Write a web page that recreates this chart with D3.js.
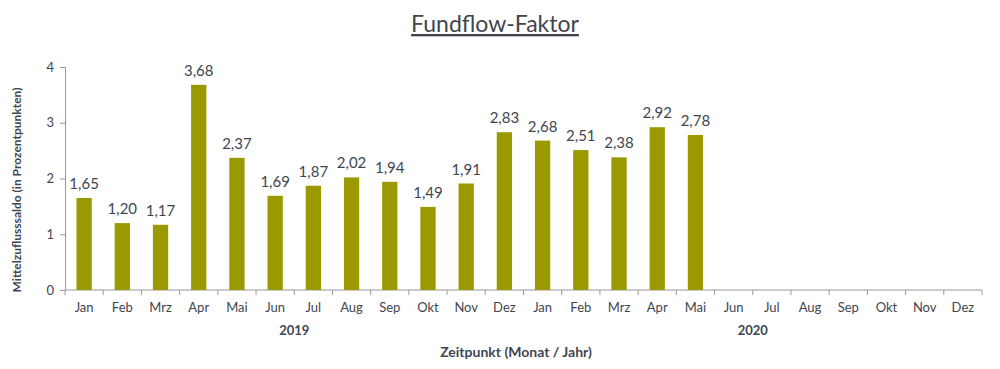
<!DOCTYPE html>
<html>
<head>
<meta charset="utf-8">
<script src="https://cdn.jsdelivr.net/npm/d3@7"></script>
<style>
body { margin: 0; background: #fff; }
text { font-family: Lato, "Open Sans", sans-serif; fill: #3f4650; }
</style>
</head>
<body>
<div id="chart"></div>
<script>
// chart data
var months = ["Jan", "Feb", "Mrz", "Apr", "Mai", "Jun", "Jul", "Aug", "Sep", "Okt", "Nov", "Dez"];
var years = ["2019", "2020"];
var values2019 = [1.65, 1.20, 1.17, 3.68, 2.37, 1.69, 1.87, 2.02, 1.94, 1.49, 1.91, 2.83];
var values2020 = [2.68, 2.51, 2.38, 2.92, 2.78, null, null, null, null, null, null, null];
var yTicks = [0, 1, 2, 3, 4];

var width = 1000, height = 369;
var margin = {left: 65, right: 18, top: 67, bottom: 79};

// one row per month, key keeps the two years apart
var rows = [];
[values2019, values2020].forEach(function(vals, yi) {
	vals.forEach(function(v, mi) {
		rows.push({key: years[yi] + "-" + mi, month: months[mi], year: years[yi], value: v});
	});
});

var x = d3.scaleBand()
	.domain(rows.map(function(d) { return d.key; }))
	.range([margin.left, width - margin.right])
	.paddingInner(0.6)
	.paddingOuter(0.3);

var y = d3.scaleLinear()
	.domain([0, 4])
	.range([height - margin.bottom, margin.top]);

var svg = d3.select("#chart").append("svg")
	.attr("width", width)
	.attr("height", height);

// title
svg.append("text")
	.attr("x", 495)
	.attr("y", 32)
	.attr("text-anchor", "middle")
	.attr("font-size", "23px")
	.attr("text-decoration", "underline")
	.text("Fundflow-Faktor");

// y axis
var yAxis = svg.append("g")
	.attr("transform", "translate(" + margin.left + ",0)")
	.call(d3.axisLeft(y).tickValues(yTicks).tickSize(5).tickPadding(6).tickFormat(d3.format("d")));
yAxis.selectAll("text").attr("font-size", "13px").style("font-family", "Lato, sans-serif").attr("fill", "#3f4650");
yAxis.select(".domain").attr("stroke", "#999");
yAxis.selectAll(".tick line").attr("stroke", "#999");

// x axis with ticks on band boundaries (between months)
var xAxisG = svg.append("g").attr("transform", "translate(0," + y(0) + ")");
xAxisG.append("line")
	.attr("x1", margin.left).attr("x2", width - margin.right)
	.attr("stroke", "#999");
var bounds = rows.map(function(d) { return x(d.key) - x.step() * x.paddingInner() / 2; });
bounds.push(width - margin.right);
xAxisG.selectAll("line.tick")
	.data(bounds)
	.enter().append("line")
	.attr("class", "tick")
	.attr("x1", function(d) { return d; }).attr("x2", function(d) { return d; })
	.attr("y1", 0).attr("y2", 5)
	.attr("stroke", "#999");
xAxisG.selectAll("text.month")
	.data(rows)
	.enter().append("text")
	.attr("class", "month")
	.attr("x", function(d) { return x(d.key) + x.bandwidth() / 2; })
	.attr("y", 22)
	.attr("text-anchor", "middle")
	.attr("font-size", "13px")
	.text(function(d) { return d.month; });

// year labels
years.forEach(function(yr) {
	var keys = rows.filter(function(d) { return d.year === yr; });
	var x0 = x(keys[0].key), x1 = x(keys[keys.length - 1].key) + x.bandwidth();
	svg.append("text")
		.attr("x", (x0 + x1) / 2)
		.attr("y", 335)
		.attr("text-anchor", "middle")
		.attr("font-size", "13px")
		.attr("font-weight", "bold")
		.text(yr);
});

// bars
var data = rows.filter(function(d) { return d.value !== null; });
svg.selectAll("rect.bar")
	.data(data)
	.enter().append("rect")
	.attr("class", "bar")
	.attr("x", function(d) { return x(d.key); })
	.attr("y", function(d) { return y(d.value); })
	.attr("width", x.bandwidth())
	.attr("height", function(d) { return y(0) - y(d.value); })
	.attr("fill", "#9a9a00");

// value labels
var fmt = function(v) { return v.toFixed(2).replace(".", ","); };
svg.selectAll("text.val")
	.data(data)
	.enter().append("text")
	.attr("class", "val")
	.attr("x", function(d) { return x(d.key) + x.bandwidth() / 2; })
	.attr("y", function(d) { return y(d.value) - 9; })
	.attr("text-anchor", "middle")
	.attr("font-size", "15px")
	.text(function(d) { return fmt(d.value); });

// axis titles
svg.append("text")
	.attr("x", 516)
	.attr("y", 357)
	.attr("text-anchor", "middle")
	.attr("font-size", "14px")
	.attr("font-weight", "bold")
	.text("Zeitpunkt (Monat / Jahr)");

svg.append("text")
	.attr("transform", "translate(21,190) rotate(-90)")
	.attr("text-anchor", "middle")
	.attr("font-size", "12px")
	.attr("font-weight", "bold")
	.text("Mittelzuflusssaldo (in Prozentpunkten)");
</script>
</body>
</html>
